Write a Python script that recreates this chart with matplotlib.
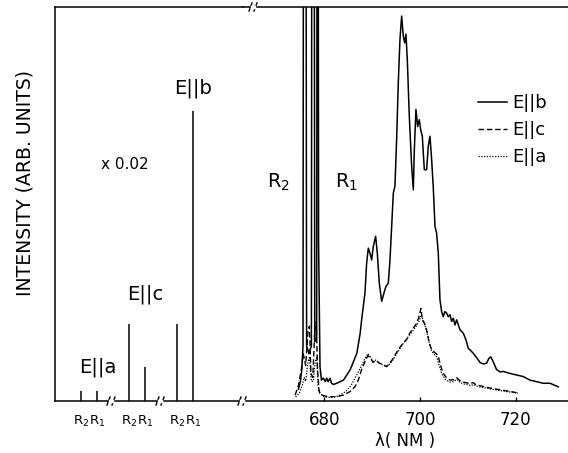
import matplotlib
matplotlib.use("Agg")
import matplotlib.pyplot as plt
import numpy as np

plt.rcParams['font.family'] = ['DejaVu Sans']
plt.rcParams['mathtext.default'] = 'regular'

# ---- left inset (x 0.02): R-line intensities ----
bar_pos = [0, 1, 3, 4, 6, 7]
bar_labels = ["R$_2$", "R$_1$", "R$_2$", "R$_1$", "R$_2$", "R$_1$"]
bar_heights = [2.5, 2.5, 19.5, 8.6, 19.5, 73.6]

# ---- spectra (wavelength nm, intensity arb.) ----
b_nm = [674.6, 675.0, 675.3, 675.55, 675.75, 676.0, 676.3, 676.8, 677.3, 677.5, 677.75, 678.0, 678.4, 678.6,
        678.8, 679.1, 679.4, 679.8, 680.2, 680.5, 680.8, 681.2, 681.5, 681.9, 682.6, 684.0, 685.4, 686.8, 687.5,
        687.8, 688.5, 688.85, 689.2, 689.55, 689.9, 690.24, 690.73, 691.08, 691.5, 691.99, 692.47, 692.89,
        693.38, 693.73, 694.08, 694.43, 694.77, 695.12, 695.47, 695.82, 696.17, 696.52, 696.79, 697.07,
        697.35, 697.77, 698.26, 698.61, 698.82, 699.16, 699.51, 699.86, 700.14, 700.49, 700.91, 701.39,
        701.74, 702.09, 702.44, 702.79, 703.14, 703.48, 703.83, 704.18, 704.53, 704.88, 705.2, 705.57,
        705.92, 706.27, 706.62, 706.97, 707.32, 707.67, 708.36, 709.06, 709.62, 710.1, 710.45, 711.15,
        711.85, 712.54, 713.24, 713.94, 714.4, 714.8, 715.3, 716.0, 716.7, 717.42, 718.82, 720.21,
        721.6, 723.0, 724.39, 725.78, 727.18, 728.92]
b_int = [3.0, 5.0, 8.0, 14.0, 300.0, 300.0, 14.0, 12.0, 14.0, 300.0, 300.0, 15.0, 16.0, 300.0,
         40.0, 8.7, 5.3, 5.8, 4.9, 5.8, 4.9, 5.8, 4.5, 4.2, 4.5, 5.3, 7.9, 12.1, 17.2,
         20.6, 27.4, 35.0, 38.8, 37.5, 35.8, 39.2, 41.8, 37.5, 29.9, 25.3, 27.4, 29.1,
         29.9, 35.8, 44.3, 52.8, 54.5, 66.4, 80.8, 91.8, 97.7, 92.6, 90.9, 93.1,
         86.7, 72.3, 59.6, 53.6, 63.8, 74.0, 69.7, 71.4, 68.9, 67.2, 58.7, 58.7,
         64.7, 67.2, 61.3, 54.0, 44.3, 42.6, 37.5, 25.7, 22.7, 21.4, 22.7, 22.3,
         21.4, 21.9, 20.2, 21.0, 19.3, 20.6, 18.1, 17.2, 15.5, 13.4, 13.0, 12.1,
         11.0, 9.8, 9.4, 9.6, 10.8, 11.2, 10.0, 8.0, 7.4, 7.5, 7.0, 6.6,
         6.2, 5.3, 4.9, 4.5, 4.5, 3.6]

c_nm = [673.9, 674.6, 675.2, 675.6, 676.1, 676.6, 676.9, 677.2, 677.6, 678.0, 678.3, 678.6, 678.9,
        679.4, 680.0, 681.0, 682.6, 684.0, 685.4, 686.4, 687.1, 687.8, 688.5, 689.1, 689.6, 690.2,
        690.8, 691.5, 692.2, 693.0, 693.7, 694.4, 695.1, 695.8, 696.5, 697.2, 697.9, 698.6, 699.2,
        699.7, 700.2, 700.5, 700.9, 701.4, 701.9, 702.4, 702.9, 703.4, 703.8, 704.2, 704.8, 705.5,
        706.3, 707.0, 707.7, 708.3, 709.0, 709.8, 710.5, 711.1, 711.6, 712.5, 713.5, 714.6, 716.0,
        717.5, 719.0, 720.2]
c_int = [1.5, 4.0, 8.0, 12.0, 9.0, 18.0, 19.0, 7.0, 6.0, 18.0, 20.0, 8.0, 2.5,
         1.6, 1.3, 1.1, 1.1, 1.5, 2.4, 3.6, 5.3, 8.0, 10.0, 11.5, 11.0, 9.8,
         10.3, 9.6, 9.3, 8.7, 9.6, 10.8, 12.3, 13.6, 14.7, 15.6, 17.3, 18.5, 19.5,
         21.0, 23.5, 20.5, 19.8, 18.0, 15.0, 13.0, 12.5, 12.0, 11.5, 9.5, 7.1, 6.0,
         5.3, 5.4, 5.9, 5.2, 4.8, 4.6, 4.4, 4.7, 4.2, 3.9, 3.6, 3.3, 3.0,
         2.7, 2.4, 2.1]

a_nm = [674.0, 674.8, 675.4, 675.8, 676.1, 676.6, 676.9, 677.3, 677.7, 678.1, 678.4, 678.7, 679.0,
        680.0, 681.5, 683.0, 684.5, 685.6, 686.5, 687.3, 688.0, 688.6, 689.1, 689.6, 690.2, 690.8,
        691.5, 692.2, 693.0, 693.7, 694.4, 695.1, 695.8, 696.5, 697.2, 697.9, 698.6, 699.2, 699.7,
        700.2, 700.6, 701.0, 701.5, 702.0, 702.5, 703.0, 703.5, 704.0, 704.6, 705.3, 706.2, 707.0,
        707.7, 708.4, 709.2, 710.0, 710.7, 711.2, 711.8, 712.7, 713.8, 715.0, 716.5, 718.0, 719.5,
        720.5]
a_int = [1.0, 2.0, 4.0, 6.0, 5.0, 10.0, 11.0, 5.0, 5.0, 10.0, 11.0, 4.0, 2.0,
         1.0, 0.9, 1.3, 2.4, 4.0, 6.0, 7.8, 9.5, 11.0, 12.0, 11.2, 10.0, 10.4,
         9.6, 9.2, 8.8, 9.4, 10.5, 12.0, 13.3, 14.6, 15.8, 16.8, 18.0, 19.0, 20.0,
         21.5, 20.8, 19.5, 17.2, 14.5, 12.5, 11.8, 11.2, 9.0, 6.8, 5.5, 4.8, 4.9,
         5.5, 4.7, 4.3, 4.1, 3.9, 4.2, 3.8, 3.5, 3.3, 3.0, 2.7, 2.4, 2.2,
         2.0]

x_ticks = [680, 700, 720]

W, H = 568, 453
fig = plt.figure(figsize=(W / 100, H / 100), dpi=100)

def fx(px):
    return px / W

def fy(py):
    return 1 - py / H

y_bot, y_top = 401, 7
axL = fig.add_axes([fx(55), fy(y_bot), fx(243) - fx(55), fy(y_top) - fy(y_bot)])
axR = fig.add_axes([fx(243), fy(y_bot), fx(568) - fx(243), fy(y_top) - fy(y_bot)])

lw = 1.1
for ax in (axL, axR):
    ax.set_ylim(0, 100)
    ax.set_yticks([])
    ax.patch.set_alpha(0)
    for s in ax.spines.values():
        s.set_linewidth(lw)
    ax.spines['right'].set_visible(False)

axR.spines['left'].set_visible(False)

# left inset
axL.set_xlim(-1.625, 10.125)
axL.vlines(bar_pos, 0, bar_heights, colors='black', linewidth=lw)
axL.set_xticks(bar_pos)
axL.set_xticklabels(bar_labels, fontsize=9.5)
axL.tick_params(axis='x', length=0, pad=9)

axL.text(7.0, 79.4, "E||b", fontsize=14, ha='center', va='center')
axL.text(2.75, 60, "x 0.02", fontsize=11, ha='center', va='center')
axL.text(4.03, 27, "E||c", fontsize=14, ha='center', va='center')
axL.text(1.03, 8.5, "E||a", fontsize=14, ha='center', va='center')

# right spectra
axR.set_xlim(663.0, 730.95)
axR.plot(b_nm, b_int, color='black', lw=lw, label='E||b')
axR.plot(c_nm, c_int, color='black', lw=1.0, ls=(0, (4, 2)), label='E||c')
axR.plot(a_nm, a_int, color='black', lw=0.9, ls=(0, (1, 1.2)), label='E||a')
axR.set_xticks(x_ticks)
axR.set_xticklabels([str(t) for t in x_ticks], fontsize=12)
axR.tick_params(axis='x', direction='in', length=3, width=1, pad=7)
axR.set_xlabel("λ( NM )", fontsize=12, labelpad=2)

axR.text(670.5, 55.6, "R$_2$", fontsize=14, ha='center', va='center')
axR.text(684.7, 55.6, "R$_1$", fontsize=14, ha='center', va='center')

leg = axR.legend(loc='upper left', bbox_to_anchor=(fx(462), fy(78)), bbox_transform=fig.transFigure,
                 frameon=False, fontsize=13, handlelength=1.6, handletextpad=0.3, labelspacing=0.5)

# y label
fig.text(fx(25), fy(183), "INTENSITY (ARB. UNITS)", rotation=90, fontsize=13.5,
         ha='center', va='center')

# axis break marks
def brk(px, py):
    for dx in (-2.5, 2.5):
        fig.add_artist(plt.Line2D([fx(px + dx - 1.5), fx(px + dx + 1.5)], [fy(py + 4), fy(py - 4)],
                                  color='black', lw=1.0))
    fig.add_artist(plt.Line2D([fx(px - 1.2), fx(px + 1.2)], [fy(py), fy(py)], color='white', lw=2.5))

for px in (111, 160, 242):
    brk(px, y_bot)
brk(253, y_top)

fig.savefig("out.png", dpi=100)
